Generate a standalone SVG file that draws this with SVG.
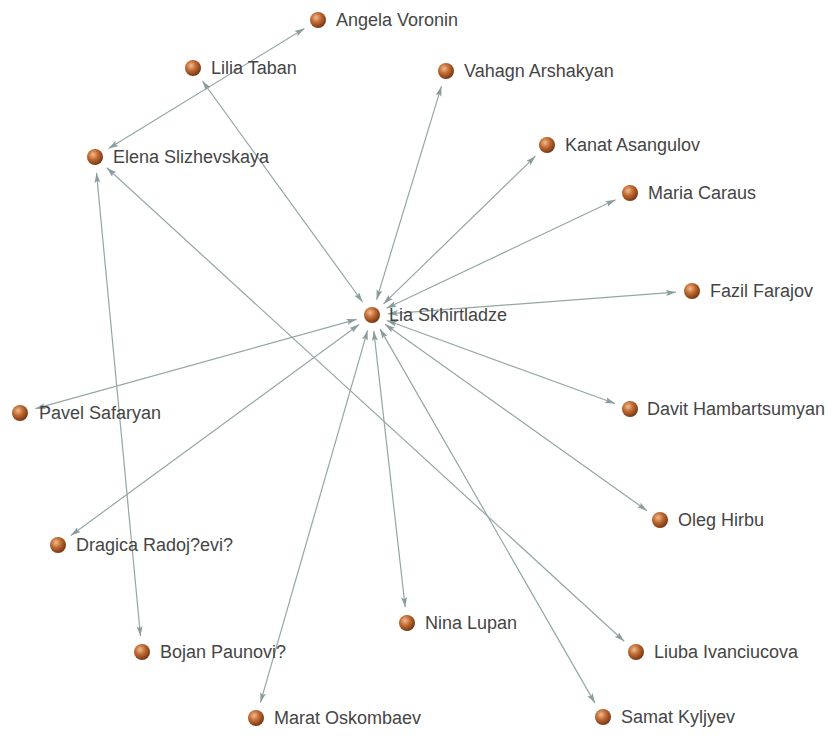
<svg xmlns="http://www.w3.org/2000/svg" width="836" height="738" viewBox="0 0 836 738">
<defs>
<radialGradient id="ball" cx="0.38" cy="0.35" r="0.7">
<stop offset="0" stop-color="#f0bc90"/>
<stop offset="0.45" stop-color="#c06a32"/>
<stop offset="1" stop-color="#6e300e"/>
</radialGradient>
<marker id="arr" markerUnits="userSpaceOnUse" markerWidth="12" markerHeight="8" viewBox="0 -4 12 8" refX="10" refY="0" orient="auto-start-reverse">
<path d="M0,-3 L10,0 L0,3 L2,0 z" fill="#8a9d9d"/>
</marker>
<style>
.e{stroke:#94a6a6;stroke-width:1.2;fill:none;marker-start:url(#arr);marker-end:url(#arr)}
.n circle{fill:url(#ball)}
.n text{font-family:"Liberation Sans",Arial,sans-serif;font-size:18px;fill:#454545}
</style>
</defs>
<rect width="836" height="738" fill="#ffffff"/>
<g id="edges">
<line class="e" x1="108.6" y1="148.6" x2="304.4" y2="28.4"/>
<line class="e" x1="202.4" y1="81.0" x2="362.6" y2="302.0"/>
<line class="e" x1="441.4" y1="86.3" x2="376.6" y2="299.7"/>
<line class="e" x1="535.5" y1="156.1" x2="383.5" y2="303.9"/>
<line class="e" x1="615.5" y1="199.8" x2="386.5" y2="308.2"/>
<line class="e" x1="676.0" y1="292.2" x2="388.0" y2="313.8"/>
<line class="e" x1="35.4" y1="408.7" x2="356.6" y2="319.3"/>
<line class="e" x1="615.0" y1="403.5" x2="387.0" y2="320.5"/>
<line class="e" x1="647.0" y1="510.7" x2="385.0" y2="324.3"/>
<line class="e" x1="70.9" y1="535.5" x2="359.1" y2="324.5"/>
<line class="e" x1="106.8" y1="167.8" x2="624.2" y2="641.2"/>
<line class="e" x1="96.5" y1="172.9" x2="140.5" y2="636.1"/>
<line class="e" x1="405.2" y1="607.1" x2="373.8" y2="330.9"/>
<line class="e" x1="595.0" y1="703.1" x2="380.0" y2="328.9"/>
<line class="e" x1="260.4" y1="702.6" x2="367.6" y2="330.4"/>
</g>
<g id="angela" class="n"><circle cx="318" cy="20" r="8"/><text x="336" y="26">Angela Voronin</text></g>
<g id="lilia" class="n"><circle cx="193" cy="68" r="8"/><text x="211" y="74">Lilia Taban</text></g>
<g id="vahagn" class="n"><circle cx="446" cy="71" r="8"/><text x="464" y="77">Vahagn Arshakyan</text></g>
<g id="elena" class="n"><circle cx="95" cy="157" r="8"/><text x="113" y="163">Elena Slizhevskaya</text></g>
<g id="kanat" class="n"><circle cx="547" cy="145" r="8"/><text x="565" y="151">Kanat Asangulov</text></g>
<g id="maria" class="n"><circle cx="630" cy="193" r="8"/><text x="648" y="199">Maria Caraus</text></g>
<g id="fazil" class="n"><circle cx="692" cy="291" r="8"/><text x="710" y="297">Fazil Farajov</text></g>
<g id="lia" class="n"><circle cx="372" cy="315" r="8"/><text x="389" y="321">Lia Skhirtladze</text></g>
<g id="pavel" class="n"><circle cx="20" cy="413" r="8"/><text x="39" y="419">Pavel Safaryan</text></g>
<g id="davit" class="n"><circle cx="630" cy="409" r="8"/><text x="647" y="415">Davit Hambartsumyan</text></g>
<g id="oleg" class="n"><circle cx="660" cy="520" r="8"/><text x="678" y="526">Oleg Hirbu</text></g>
<g id="dragica" class="n"><circle cx="58" cy="545" r="8"/><text x="76" y="551">Dragica Radoj?evi?</text></g>
<g id="nina" class="n"><circle cx="407" cy="623" r="8"/><text x="425" y="629">Nina Lupan</text></g>
<g id="liuba" class="n"><circle cx="636" cy="652" r="8"/><text x="654" y="658">Liuba Ivanciucova</text></g>
<g id="bojan" class="n"><circle cx="142" cy="652" r="8"/><text x="160" y="658">Bojan Paunovi?</text></g>
<g id="samat" class="n"><circle cx="603" cy="717" r="8"/><text x="621" y="723">Samat Kyljyev</text></g>
<g id="marat" class="n"><circle cx="256" cy="718" r="8"/><text x="274" y="724">Marat Oskombaev</text></g>
</svg>
